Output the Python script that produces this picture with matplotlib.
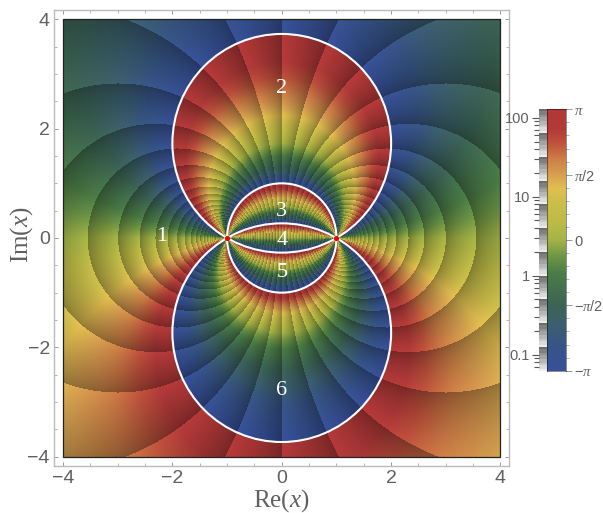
import numpy as np
import matplotlib
matplotlib.use('Agg')
import matplotlib.pyplot as plt
from matplotlib.colors import LinearSegmentedColormap
from matplotlib.patches import Circle
from matplotlib.ticker import LogLocator, NullFormatter

plt.rcParams['font.family'] = ['Liberation Sans', 'DejaVu Sans']
plt.rcParams['mathtext.fontset'] = 'custom'
plt.rcParams['mathtext.rm'] = 'Liberation Serif'
plt.rcParams['mathtext.it'] = 'Liberation Serif:italic'

# values
pole_x = [-1, 1]
field_power = -6
circle_y = [1.732, -1.732, 0]
circle_r = [2, 2, 1]
region_labels = ['1', '2', '3', '4', '5', '6']
region_x = [-2.2, 0, 0, 0, 0, 0]
region_y = [0.02, 2.73, 0.49, -0.04, -0.63, -2.79]
axis_ticks = [-4, -2, 0, 2, 4]
axis_tick_labels = ['\u22124', '\u22122', '0', '2', '4']
axis_minor = [-3.5, -3, -2.5, -1.5, -1, -0.5, 0.5, 1, 1.5, 2.5, 3, 3.5]
abs_ticks = [0.1, 1, 10, 100]
abs_tick_labels = ['0.1', '1', '10', '100']
abs_range = [1 / 16, 128]
arg_labels = ['\u2212$\\pi$', '\u2212$\\pi$/2', '0', '$\\pi$/2', '$\\pi$']
arg_stops = [-1, -0.8, -0.65, -0.5, -0.25, -0.125, 0, 0.15, 0.3, 0.4, 0.5, 0.625, 0.75, 0.85, 1]
arg_colors = ['#37509a', '#375587', '#3c5f6e', '#3c6455', '#4b7d46', '#6e9646', '#a5b446',
              '#bebb46', '#cdbe4b', '#e1be50', '#d7a050', '#cd7d46', '#be503c', '#b43a3a', '#b23838']

TEXT = '#606060'
FRAME = '#bbbbbb'
W, H = 603, 513


def px_axes(fig, left, top, right, bottom):
    return fig.add_axes([left / W, 1 - bottom / H, (right - left) / W, (bottom - top) / H])


def shade(log2_abs):
    # brightness jumps up at every power of 2, then fades as abs grows
    return 1 - (log2_abs - np.floor(log2_abs))


cmap = LinearSegmentedColormap.from_list('arg', [((s + 1) / 2, c) for s, c in zip(arg_stops, arg_colors)], N=512)

fig = plt.figure(figsize=(W / 100, H / 100), dpi=100)

# main plot
ax = px_axes(fig, 54, 10, 509.3, 465.7)
xs = np.linspace(-4, 4, 438)
ys = np.linspace(-4, 4, 438)
X, Y = np.meshgrid(xs, ys)
z = X + 1j * Y
w = (z - pole_x[1]) / (z - pole_x[0])
phase = np.angle(np.exp(1j * field_power * np.angle(w)))
log2_abs = field_power * np.log2(np.abs(w))
rgb = cmap((phase + np.pi) / (2 * np.pi))[:, :, :3]
rgb = np.clip(rgb * (0.66 + 0.36 * shade(log2_abs) ** 0.75)[:, :, None], 0, 1)
ax.imshow(rgb, origin='lower', extent=[-4, 4, -4, 4], interpolation='bilinear', aspect='auto')
ax.add_patch(plt.Rectangle((-4, -4), 8, 8, fill=False, ec='#222222', lw=0.9, zorder=2))

for cy, r in zip(circle_y, circle_r):
    ax.add_patch(Circle((0, cy), r, fill=False, ec='white', lw=1.5, zorder=3))
ax.scatter(pole_x, [0, 0], s=14, color='#ee0000', zorder=4, linewidths=0)
for t, tx, ty in zip(region_labels, region_x, region_y):
    ax.text(tx, ty, t, color='white', family='Liberation Serif', fontsize=16, ha='center', va='center', zorder=5)

ax.set_xlim(-4.165, 4.161)
ax.set_ylim(-4.165, 4.17)
ax.set_xticks(axis_ticks)
ax.set_xticklabels(axis_tick_labels)
ax.set_yticks(axis_ticks)
ax.set_yticklabels(axis_tick_labels)
ax.set_xticks(axis_minor, minor=True)
ax.set_yticks(axis_minor, minor=True)
ax.tick_params(which='major', direction='in', length=3, width=0.7, color='#999999', top=True, right=True,
               labelsize=14, labelcolor=TEXT, pad=3)
ax.tick_params(which='minor', direction='in', length=2, width=0.6, color='#aaaaaa', top=True, right=True)
for s in ax.spines.values():
    s.set_color(FRAME)
    s.set_linewidth(1.0)
fig.text(281 / W, 1 - 500.5 / H, 'Re$(x)$', color=TEXT, ha='center', va='center', fontsize=18,
         family='Liberation Serif')
fig.text(22 / W, 1 - 235 / H, 'Im$(x)$', color=TEXT, ha='center', va='center', fontsize=18, rotation=90,
         family='Liberation Serif')

# grey abs strip
ax_abs = px_axes(fig, 539, 109.3, 547, 370.7)
edges = np.logspace(np.log10(abs_range[0]), np.log10(abs_range[1]), 133)
mids = np.sqrt(edges[:-1] * edges[1:])
grey = 0.42 + 0.52 * shade(np.log2(mids))
grey = np.round(grey * 14) / 14
ax_abs.pcolormesh([0, 1], edges, grey[:, None], cmap='gray', vmin=0, vmax=1)
ax_abs.set_yscale('log')
ax_abs.set_ylim(abs_range)
ax_abs.set_xticks([])
ax_abs.set_yticks(abs_ticks)
ax_abs.set_yticklabels(abs_tick_labels)
ax_abs.yaxis.set_minor_locator(LogLocator(base=10, subs=range(2, 10), numticks=12))
ax_abs.yaxis.set_minor_formatter(NullFormatter())
ax_abs.tick_params(which='major', length=5, width=0.8, color='#555555', labelsize=10.5, labelcolor=TEXT, pad=1.5)
ax_abs.tick_params(which='minor', length=3.5, width=0.8, color='#555555')
for s in ax_abs.spines.values():
    s.set_visible(False)

# phase bar
ax_arg = px_axes(fig, 547, 109.3, 565.7, 370.7)
bar = np.linspace(0, 1, 256)[:, None]
ax_arg.imshow(bar, origin='lower', cmap=cmap, aspect='auto', extent=[0, 1, -np.pi, np.pi])
ax_arg.set_xticks([])
ax_arg.yaxis.tick_right()
ax_arg.set_yticks([-np.pi, -np.pi / 2, 0, np.pi / 2, np.pi])
ax_arg.set_yticklabels(arg_labels)
ax_arg.set_yticks(np.arange(-10, 11) * np.pi / 10, minor=True)
ax_arg.tick_params(which='major', length=4, width=0.7, color='#999999', labelsize=10.5, labelcolor=TEXT, pad=2)
ax_arg.tick_params(which='minor', length=2.5, width=0.6, color='#aaaaaa')
for s in ax_arg.spines.values():
    s.set_color('#000000')
    s.set_alpha(0.45)
    s.set_linewidth(0.7)

fig.savefig('out.png', dpi=100)
plt.close(fig)
